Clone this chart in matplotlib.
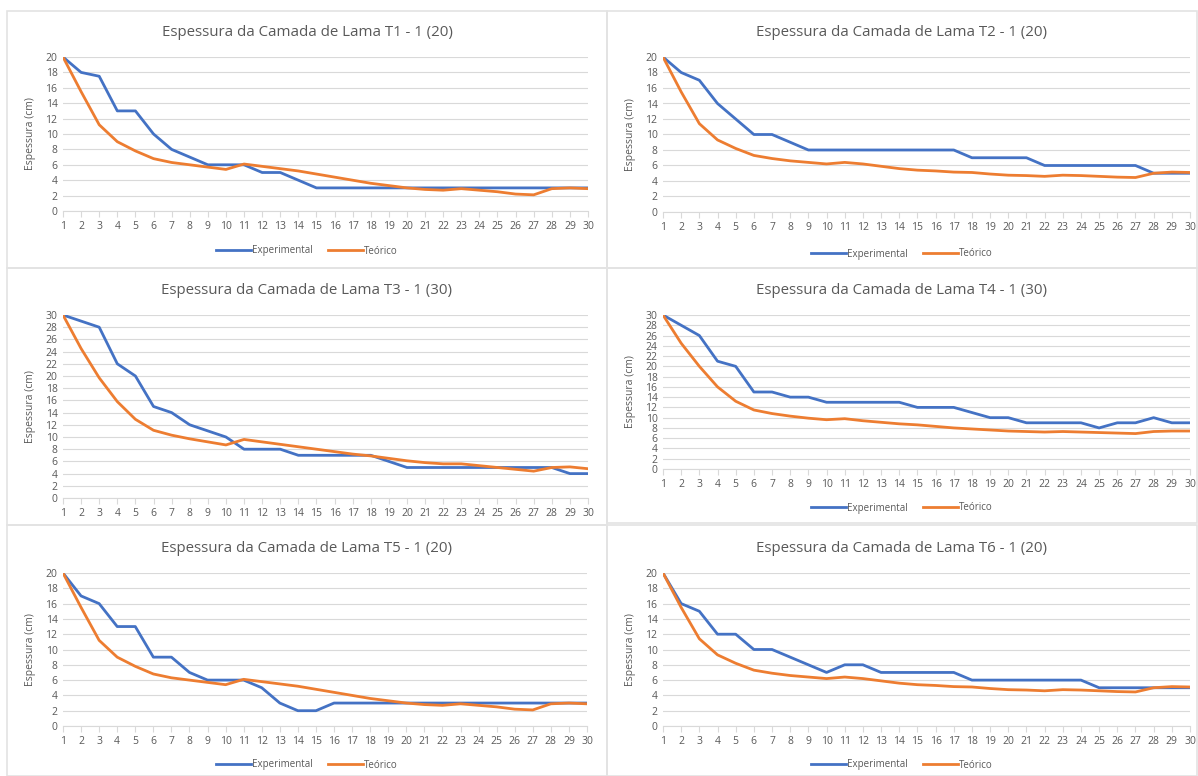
import matplotlib
matplotlib.use("Agg")
import matplotlib.pyplot as plt
from matplotlib.patches import Rectangle

plt.rcParams["font.family"] = ["Open Sans", "DejaVu Sans"]

W, H = 1198, 776

x = list(range(1, 31))

t1_exp = [20, 18, 17.5, 13, 13, 10, 8, 7, 6, 6, 6, 5, 5, 4, 3, 3, 3, 3, 3, 3,
          3, 3, 3, 3, 3, 3, 3, 3, 3, 3]
t1_teo = [20, 15.5, 11.2, 9, 7.8, 6.8, 6.3, 6.0, 5.7, 5.4, 6.1, 5.8, 5.5, 5.2, 4.8,
          4.4, 4.0, 3.6, 3.3, 3.0, 2.8, 2.7, 2.9, 2.7, 2.5, 2.2, 2.1, 2.9, 3.0, 2.9]

t2_exp = [20, 18, 17, 14, 12, 10, 10, 9, 8, 8, 8, 8, 8, 8, 8, 8, 8, 7, 7, 7,
          7, 6, 6, 6, 6, 6, 6, 5, 5, 5]
t2_teo = [20, 15.5, 11.4, 9.3, 8.2, 7.3, 6.9, 6.6, 6.4, 6.2, 6.4, 6.2, 5.9, 5.6, 5.4,
          5.3, 5.15, 5.1, 4.9, 4.75, 4.7, 4.6, 4.75, 4.7, 4.6, 4.5, 4.45, 5.0, 5.15, 5.1]

t3_exp = [30, 29, 28, 22, 20, 15, 14, 12, 11, 10, 8, 8, 8, 7, 7, 7, 7, 7, 6, 5,
          5, 5, 5, 5, 5, 5, 5, 5, 4, 4]
t3_teo = [30, 24.5, 19.7, 15.8, 12.9, 11.1, 10.3, 9.7, 9.2, 8.7, 9.6, 9.2, 8.8, 8.4, 8.0,
          7.6, 7.2, 6.9, 6.5, 6.1, 5.8, 5.6, 5.6, 5.3, 5.0, 4.7, 4.4, 5.0, 5.1, 4.8]

t4_exp = [30, 28, 26, 21, 20, 15, 15, 14, 14, 13, 13, 13, 13, 13, 12, 12, 12, 11, 10, 10,
          9, 9, 9, 9, 8, 9, 9, 10, 9, 9]
t4_teo = [30, 24.5, 20, 16, 13.2, 11.5, 10.8, 10.3, 9.9, 9.6, 9.8, 9.4, 9.1, 8.8, 8.6,
          8.3, 8.0, 7.8, 7.6, 7.4, 7.3, 7.2, 7.3, 7.2, 7.1, 7.0, 6.9, 7.3, 7.4, 7.4]

t5_exp = [20, 17, 16, 13, 13, 9, 9, 7, 6, 6, 6, 5, 3, 2, 2, 3, 3, 3, 3, 3,
          3, 3, 3, 3, 3, 3, 3, 3, 3, 3]
t5_teo = t1_teo

t6_exp = [20, 16, 15, 12, 12, 10, 10, 9, 8, 7, 8, 8, 7, 7, 7, 7, 7, 6, 6, 6,
          6, 6, 6, 6, 5, 5, 5, 5, 5, 5]
t6_teo = t2_teo

titles = ["Espessura da Camada de Lama T1 - 1 (20)", "Espessura da Camada de Lama T2 - 1 (20)",
          "Espessura da Camada de Lama T3 - 1 (30)", "Espessura da Camada de Lama T4 - 1 (30)",
          "Espessura da Camada de Lama T5 - 1 (20)", "Espessura da Camada de Lama T6 - 1 (20)"]
series = [(t1_exp, t1_teo), (t2_exp, t2_teo), (t3_exp, t3_teo),
          (t4_exp, t4_teo), (t5_exp, t5_teo), (t6_exp, t6_teo)]
ymax = [20, 20, 30, 30, 20, 20]

# layout in pixels: panel box, plot box, title y, legend y (None = hidden)
panels = [(7, 11, 607, 268), (607, 11, 1197, 268),
          (7, 268, 607, 525), (607, 268, 1197, 523),
          (7, 525, 607, 776), (607, 525, 1197, 776)]
plots = [(63, 57, 588, 211), (663, 57, 1190, 212),
         (63, 315, 588, 498), (663, 315, 1190, 469),
         (63, 573, 587, 726), (663, 573, 1190, 726)]
title_y = [32, 32, 290, 290, 548, 548]
legend_y = [251, 254, None, 508, 765, 765]
ylab_x = [30, 630, 30, 630, 30, 630]

BLUE = "#4472C4"
ORANGE = "#ED7D31"
GRID = "#D9D9D9"
TXT = "#595959"

fig = plt.figure(figsize=(W / 100, H / 100), dpi=100)
fig.patch.set_facecolor("white")

for i in range(6):
    px0, py0, px1, py1 = panels[i]
    fig.add_artist(Rectangle((px0 / W, 1 - py1 / H), (px1 - px0) / W, (py1 - py0) / H,
                             transform=fig.transFigure, fill=False,
                             edgecolor="#E3E3E3", linewidth=1.2))

    l, t, r, b = plots[i]
    ax = fig.add_axes([l / W, 1 - b / H, (r - l) / W, (b - t) / H])
    exp, teo = series[i]
    ax.plot(x, exp, color=BLUE, linewidth=2.0, label="Experimental", zorder=3)
    ax.plot(x, teo, color=ORANGE, linewidth=2.0, label="Teórico", zorder=3)

    ax.set_xlim(1, 30)
    ax.set_ylim(0, ymax[i])
    ax.set_xticks(x)
    ax.set_yticks(range(0, ymax[i] + 1, 2))
    ax.grid(axis="y", color=GRID, linewidth=0.8)
    ax.set_axisbelow(True)
    for s in ["top", "right", "left"]:
        ax.spines[s].set_visible(False)
    ax.spines["bottom"].set_color(GRID)
    ax.tick_params(axis="y", length=0, labelsize=7.5, labelcolor=TXT, pad=4)
    ax.tick_params(axis="x", length=4, color=GRID, labelsize=7.5, labelcolor=TXT, pad=3)

    cx = (px0 + px1) / 2
    fig.text(cx / W, 1 - title_y[i] / H, titles[i], ha="center", va="center",
             fontsize=10.8, color=TXT)
    fig.text(ylab_x[i] / W, 1 - (t + b) / 2 / H, "Espessura (cm)", rotation=90,
             ha="center", va="center", fontsize=7.5, color=TXT)

    if legend_y[i] is not None:
        fig.legend(*ax.get_legend_handles_labels(), loc="center",
                   bbox_to_anchor=(cx / W, 1 - legend_y[i] / H), ncol=2,
                   frameon=False, fontsize=7, labelcolor=TXT, handlelength=3.6,
                   handletextpad=0.1, columnspacing=1.6)

fig.savefig("out.png", dpi=100, facecolor="white")
